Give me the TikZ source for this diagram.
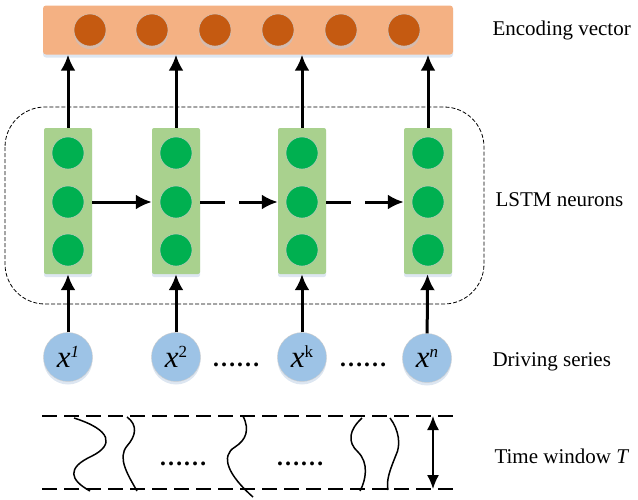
\documentclass[tikz,border=0pt]{standalone}
\usepackage{fontspec}
\setmainfont{Liberation Serif}
\usetikzlibrary{arrows.meta, calc, positioning, shadows}
\tikzset{>=latex}
\definecolor{encbar}{HTML}{F4B183}
\definecolor{encdot}{HTML}{C55A11}
\definecolor{lstmbar}{HTML}{A9D18E}
\definecolor{lstmdot}{HTML}{00B050}
\definecolor{inpdot}{HTML}{9DC3E6}
\definecolor{shade}{HTML}{B4C8E1}
\tikzset{
  softshadow/.style={drop shadow={shadow xshift=0pt, shadow yshift=-3pt, opacity=0.45, fill=shade}},
  bigarrow/.style={-{Latex[length=16pt,width=15pt]}, line width=3pt},
  label/.style={anchor=west, font=\fontsize{21}{24}\selectfont},
  dotsnode/.style={anchor=base west, inner sep=0pt, font=\fontsize{24}{26}\selectfont\bfseries}
}
\newcommand{\xin}[1]{\textit{x}\raisebox{10pt}{\fontsize{17}{18}\selectfont #1}}

\begin{document}
\begin{tikzpicture}[x=1pt, y=-1pt]
    \useasboundingbox (0,0) rectangle (638,499);

    % dashed frame round the LSTM cells
    \draw[line width=0.8pt, dash pattern=on 4pt off 2pt, rounded corners=40pt] (5,107) rectangle (484,304);

    % encoding vector
    \node[rectangle, rounded corners=3pt, fill=encbar, minimum width=410pt, minimum height=49pt, softshadow] (E) at (248,30) {};
    \begin{scope}[every node/.style={circle, draw=gray!40, thin, fill=encdot, minimum size=32pt, inner sep=0pt, softshadow}]
      \node (E1) at (90,30) {};
      \node (E2) at (152,30) {};
      \node (E3) at (215,30) {};
      \node (E4) at (278,30) {};
      \node (E5) at (341,30) {};
      \node (E6) at (404,30) {};
    \end{scope}

    % LSTM cells
    \begin{scope}[every node/.style={rectangle, rounded corners=2pt, fill=lstmbar, minimum width=48pt, minimum height=146pt, inner sep=0pt, softshadow}]
      \node (L1) at (68,201) {};
      \node (L2) at (176,201) {};
      \node (L3) at (302,201) {};
      \node (L4) at (428,201) {};
    \end{scope}
    \begin{scope}[every node/.style={circle, draw=gray!40, thin, fill=lstmdot, minimum size=32pt, inner sep=0pt}]
      \node (a1) at (68,153) {};
      \node (m1) at (68,202) {};
      \node (b1) at (68,250) {};
      \node (a2) at (176,153) {};
      \node (m2) at (176,202) {};
      \node (b2) at (176,250) {};
      \node (a3) at (302,153) {};
      \node (m3) at (302,202) {};
      \node (b3) at (302,250) {};
      \node (a4) at (428,153) {};
      \node (m4) at (428,202) {};
      \node (b4) at (428,250) {};
    \end{scope}

    % driving series
    \begin{scope}[every node/.style={circle, draw=gray!40, thin, fill=inpdot, minimum size=49pt, inner sep=0pt, softshadow, font=\fontsize{31}{32}\selectfont}]
      \node (X1) at (68,357) {\xin{\textit{1}}};
      \node (X2) at (176,357) {\xin{2}};
      \node (X3) at (302,357) {\xin{k}};
      \node (X4) at (427,358) {\xin{\textit{n}}};
    \end{scope}
    \node[dotsnode] (D1) at (212,366) {……};
    \node[dotsnode] (D2) at (339,366) {……};

    % connectors
    \begin{scope}[every edge/.style={draw=black, bigarrow}]
      \path (X1) edge (L1);
      \path (X2) edge (L2);
      \path (X3) edge (L3);
      \path (X4) edge (L4);
      \path (L1.north) edge (L1.north |- E.south);
      \path (L2.north) edge (L2.north |- E.south);
      \path (L3.north) edge (L3.north |- E.south);
      \path (L4.north) edge (L4.north |- E.south);
      \path (L1.east |- m1) edge (L2.west |- m2);
      \path (L2.east |- m2) edge[dash pattern=on 25pt off 14pt on 100pt] (L3.west |- m3);
      \path (L3.east |- m3) edge[dash pattern=on 25pt off 14pt on 100pt] (L4.west |- m4);
    \end{scope}

    % time window
    \coordinate (T1) at (42,416);
    \coordinate (T2) at (458,416);
    \coordinate (B1) at (42,489);
    \coordinate (B2) at (458,489);
    \draw[line width=1.5pt, dash pattern=on 15pt off 7pt] (T1) -- (T2);
    \draw[line width=1.5pt, dash pattern=on 15pt off 7pt] (B1) -- (B2);
    \begin{scope}[line width=1.5pt]
      \draw (74,418) .. controls (112,430) and (114,445) .. (92,456) .. controls (66,468) and (70,480) .. (90,491);
      \draw (127,417) .. controls (138,425) and (136,436) .. (127,446) .. controls (117,458) and (128,475) .. (137,491);
      \draw (243,416) .. controls (250,430) and (246,440) .. (235,447) .. controls (220,456) and (228,475) .. (253,497);
      \draw (362,418) .. controls (349,430) and (347,442) .. (358,452) .. controls (369,463) and (366,480) .. (360,491);
      \draw (390,418) .. controls (399,430) and (401,445) .. (396,455) .. controls (390,470) and (386,480) .. (388,490);
    \end{scope}
    \node[dotsnode] (D3) at (159,465) {……};
    \node[dotsnode] (D4) at (276,465) {……};
    \coordinate (W1) at (433,416);
    \coordinate (W2) at (433,489);
    \draw[{Latex[length=14pt,width=12pt]}-{Latex[length=14pt,width=12pt]}, line width=1.5pt] (W1) -- (W2);

    % labels
    \node[label] (nE) at (489,30) {Encoding vector};
    \node[label] (nL) at (492,200) {LSTM neurons};
    \node[label] (nX) at (489,362) {Driving series};
    \node[label] (nT) at (491,456) {Time window \textit{T}};
\end{tikzpicture}
\end{document}
